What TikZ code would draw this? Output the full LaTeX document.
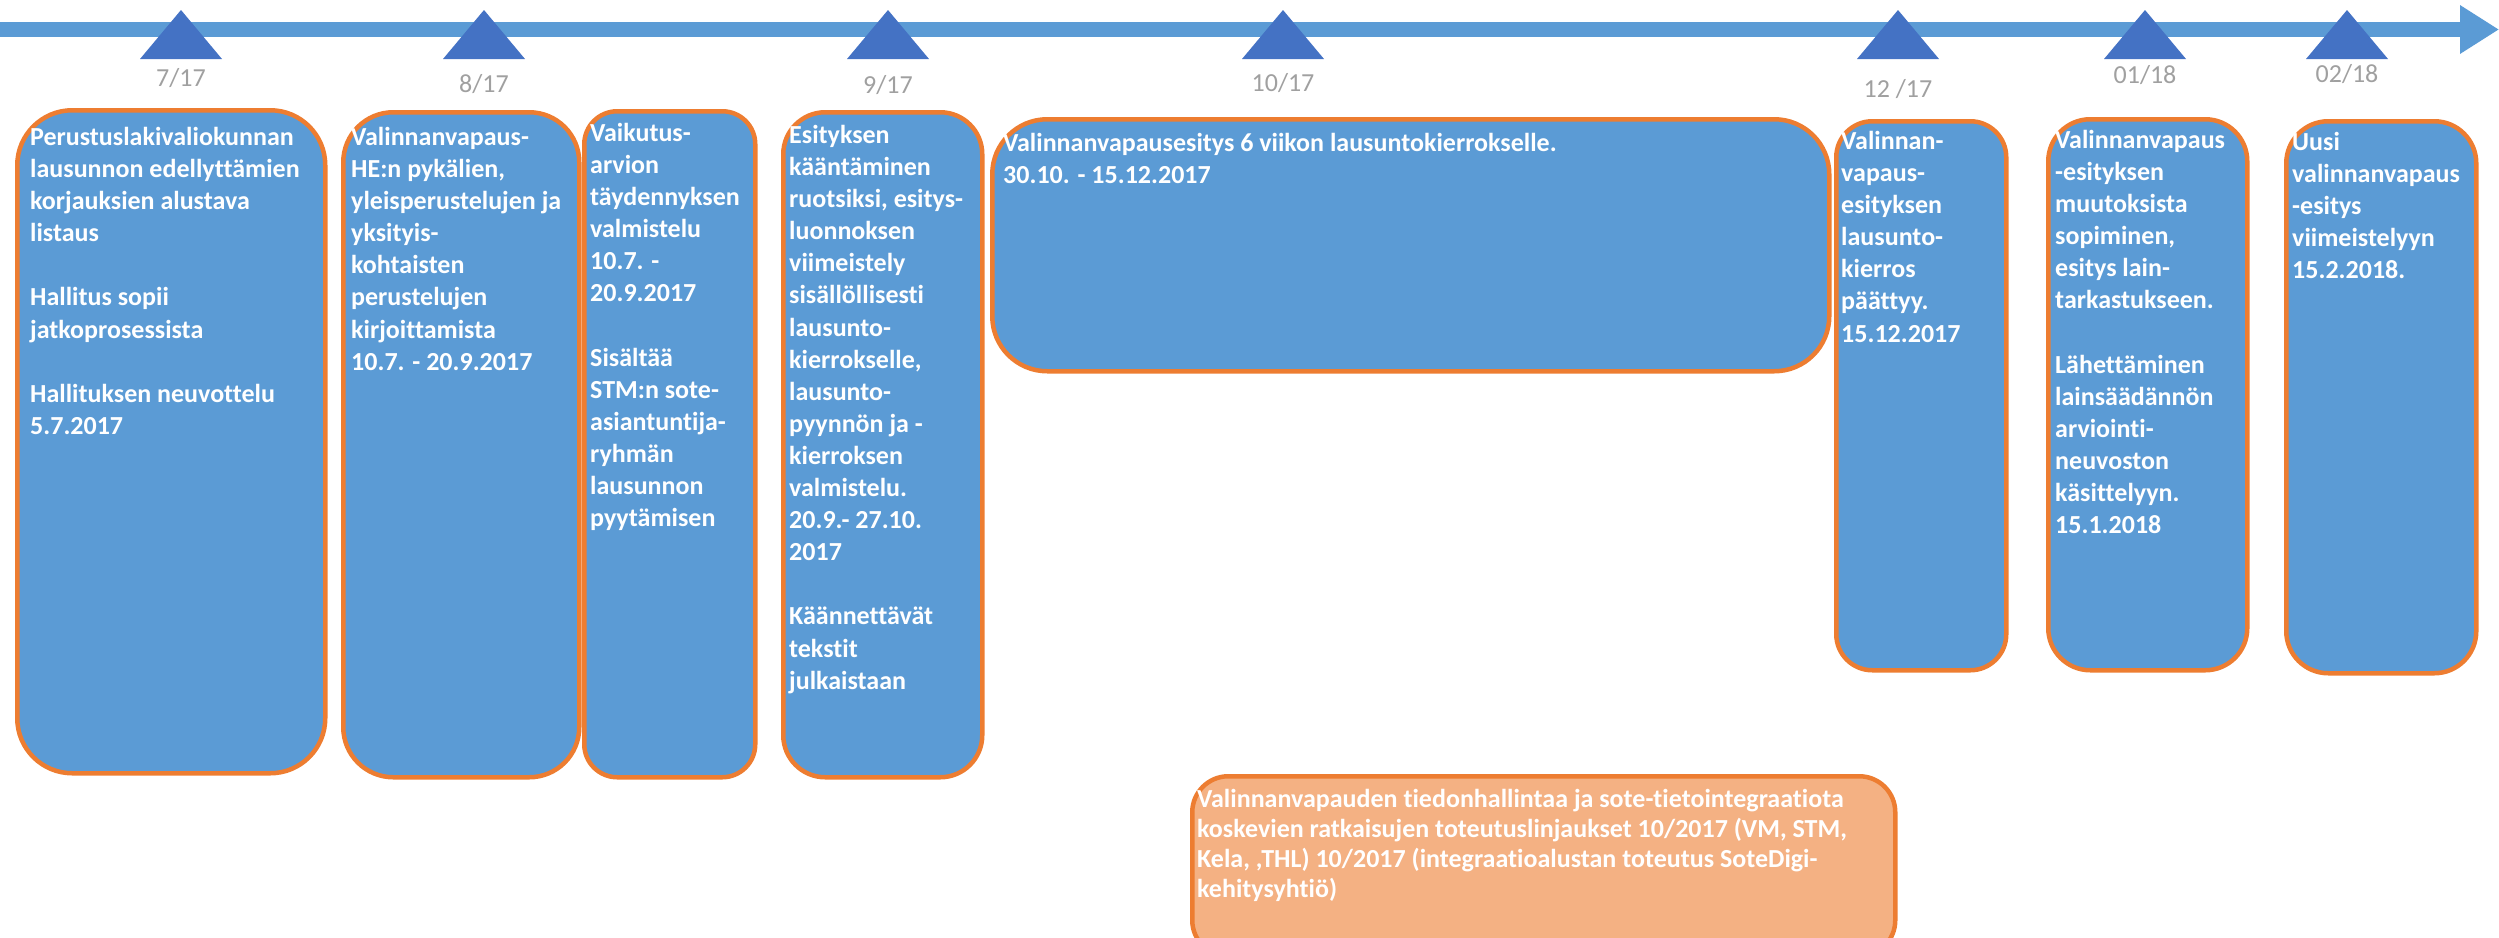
\documentclass[tikz,border=0pt]{standalone}
\usepackage{fontspec}
\setmainfont[Ligatures = NoCommon]{Carlito}
\usetikzlibrary{arrows.meta,positioning}
\definecolor{barblue}{RGB}{91,155,213}
\definecolor{markerblue}{RGB}{68,114,196}
\definecolor{boxblue}{RGB}{91,155,213}
\definecolor{edgeorange}{RGB}{237,125,49}
\definecolor{lightorange}{RGB}{244,177,131}
\definecolor{monthgray}{RGB}{160,160,160}
\tikzset{
	phase/.style = {draw = edgeorange, fill = boxblue, line width = 4.5pt, rounded corners = #1, inner sep = 0pt, anchor = north west},
	phase/.default = 50pt,
	phasetext/.style = {anchor = north west, inner sep = 0pt, align = left, text = white, font = \fontsize{26}{32.1}\selectfont\bfseries},
	month/.style = {anchor = base, inner sep = 0pt, text = monthgray, font = \fontsize{26}{30}\selectfont},
	timeline/.style = {line width = 15pt, color = barblue, -{Triangle[length = 39pt, width = 46pt]}}
}

\begin{document}
\begin{tikzpicture}[x = 1pt, y = -1pt]
	\useasboundingbox (0, 0) rectangle (2499, 937);

	% timeline
	\coordinate (tlstart) at (0, 29.5);
	\coordinate (tlend) at (2499, 29.5);
	\draw [timeline] (tlstart) -- (tlend);

	\foreach \x/\month/\base in {181/{7/17}/86, 484/{8/17}/92, 888/{9/17}/93, 1283/{10/17}/91, 1898/{12 /17}/97, 2145/{01/18}/83, 2347/{02/18}/82}{
		\fill [markerblue] (\x-41, 59) -- (\x, 10) -- (\x+41, 59) -- cycle;
		\node [month] (m\x) at (\x, \base) {\month};
	}

	% phases
	\node [phase = 55pt, minimum width = 308pt, minimum height = 663pt] (korjaus) at (15, 108) {};
	\node [phasetext] (korjausT) at ([shift = {(15, 19)}] korjaus.north west) {Perustuslakivaliokunnan\\lausunnon edellyttämien\\korjauksien alustava\\listaus\\[32.1pt]Hallitus sopii\\jatkoprosessista\\[32.1pt]Hallituksen neuvottelu\\5.7.2017};

	\node [phase = 50pt, minimum width = 236pt, minimum height = 665pt] (pykalat) at (341, 110) {};
	\node [phasetext] (pykalatT) at ([shift = {(10, 17)}] pykalat.north west) {Valinnanvapaus-\\HE:n pykälien,\\yleisperustelujen ja\\yksityis-\\kohtaisten\\perustelujen\\kirjoittamista\\10.7. - 20.9.2017};

	\node [phase = 33pt, minimum width = 171pt, minimum height = 666pt] (vaikutus) at (582, 109) {};
	\node [phasetext] (vaikutusT) at ([shift = {(8, 14)}] vaikutus.north west) {Vaikutus-\\arvion\\täydennyksen\\valmistelu\\10.7. -\\20.9.2017\\[32.1pt]Sisältää\\STM:n sote-\\asiantuntija-\\ryhmän\\lausunnon\\pyytämisen};

	\node [phase = 42pt, minimum width = 199pt, minimum height = 665pt] (kaannos) at (781, 110) {};
	\node [phasetext] (kaannosT) at ([shift = {(8, 15)}] kaannos.north west) {Esityksen\\kääntäminen\\ruotsiksi, esitys-\\luonnoksen\\viimeistely\\sisällöllisesti\\lausunto-\\kierrokselle,\\lausunto-\\pyynnön ja -\\kierroksen\\valmistelu.\\20.9.- 27.10.\\2017\\[32.1pt]Käännettävät\\tekstit\\julkaistaan};

	\node [phase = 55pt, minimum width = 837pt, minimum height = 252pt] (lausunto) at (990, 117) {};
	\node [phasetext] (lausuntoT) at ([shift = {(13, 16)}] lausunto.north west) {Valinnanvapausesitys 6 viikon lausuntokierrokselle.\\30.10. - 15.12.2017};

	\node [phase = 36pt, minimum width = 170pt, minimum height = 549pt] (paattyy) at (1834, 119) {};
	\node [phasetext] (paattyyT) at ([shift = {(7, 12)}] paattyy.north west) {Valinnan-\\vapaus-\\esityksen\\lausunto-\\kierros\\päättyy.\\15.12.2017};

	\node [phase = 42pt, minimum width = 199pt, minimum height = 551pt] (muutos) at (2046, 117) {};
	\node [phasetext] (muutosT) at ([shift = {(9, 13)}] muutos.north west) {Valinnanvapaus\\-esityksen\\muutoksista\\sopiminen,\\esitys lain-\\tarkastukseen.\\[32.1pt]Lähettäminen\\lainsäädännön\\arviointi-\\neuvoston\\käsittelyyn.\\15.1.2018};

	\node [phase = 42pt, minimum width = 190pt, minimum height = 552pt] (uusi) at (2284, 119) {};
	\node [phasetext] (uusiT) at ([shift = {(8, 13)}] uusi.north west) {Uusi\\valinnanvapaus\\-esitys\\viimeistelyyn\\15.2.2018.};

	% tiedonhallinta
	\node [phase = 36pt, fill = lightorange, minimum width = 703pt, minimum height = 180pt] (tieto) at (1190, 774) {};
	\node [phasetext, font = \fontsize{26}{30}\selectfont\bfseries] (tietoT) at ([shift = {(7, 15)}] tieto.north west) {Valinnanvapauden tiedonhallintaa ja sote-tietointegraatiota\\koskevien ratkaisujen toteutuslinjaukset 10/2017 (VM, STM,\\Kela, ,THL) 10/2017 (integraatioalustan toteutus SoteDigi-\\kehitysyhtiö)};
\end{tikzpicture}
\end{document}
